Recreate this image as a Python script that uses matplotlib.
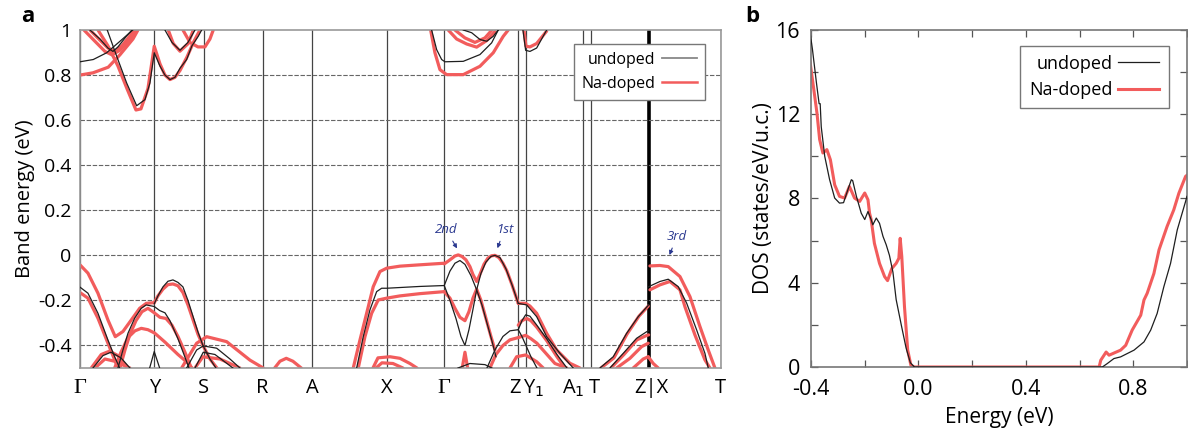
import matplotlib
matplotlib.use("Agg")
import matplotlib.pyplot as plt
from matplotlib.transforms import blended_transform_factory

plt.rcParams["font.family"] = ["Open Sans", "DejaVu Sans"]

# k-path (path length units) and labels
kpath = [0, 74.3, 124, 182.7, 232.3, 306.7, 364.3, 438.3, 445.7, 503.3, 510.7, 568.7, 640.7]
kpath_break = 568.7

# undoped bands: (k, E) pairs
undoped_valence = [
    ([0, 8, 18, 28, 34.7, 39.7], [-0.141, -0.168, -0.257, -0.376, -0.45, -0.5]),
    ([38, 43, 48, 54.7, 61.3, 66.3, 74.3, 79.7, 85, 90, 98, 104, 109],
     [-0.5, -0.42, -0.346, -0.279, -0.235, -0.22, -0.227, -0.245, -0.255, -0.29, -0.37, -0.44, -0.5]),
    ([74.3, 78, 83, 88, 93, 98, 103, 108, 113, 118, 123, 130, 136],
     [-0.215, -0.18, -0.14, -0.115, -0.109, -0.12, -0.14, -0.2, -0.27, -0.34, -0.40, -0.46, -0.5]),
    ([13, 23, 31, 41, 50], [-0.5, -0.445, -0.43, -0.455, -0.5]),
    ([69.7, 74.3, 79.7], [-0.5, -0.427, -0.5]),
    ([106.7, 116.7, 123.3, 136.7, 150, 160], [-0.5, -0.42, -0.402, -0.412, -0.46, -0.5]),
    ([115, 123.3, 135, 153], [-0.5, -0.43, -0.44, -0.5]),
    ([276.7, 283.3, 290, 296.7, 301.7, 306.7, 340, 364.3],
     [-0.5, -0.361, -0.242, -0.161, -0.146, -0.146, -0.138, -0.134]),
    ([364.3, 370, 375, 380, 385, 391, 396.7, 402, 407, 412, 416],
     [-0.134, -0.07, -0.035, -0.023, -0.04, -0.09, -0.153, -0.22, -0.30, -0.38, -0.45]),
    ([364.3, 370, 376, 381, 385, 389, 393, 396.7, 401, 406, 411, 415, 420, 426, 432, 438.3],
     [-0.134, -0.2, -0.28, -0.36, -0.40, -0.33, -0.24, -0.153, -0.08, -0.03, -0.005, 0.0, -0.01, -0.06, -0.13, -0.213]),
    ([438.3, 446.7, 456.7, 466.7, 480, 493.3], [-0.213, -0.22, -0.272, -0.361, -0.435, -0.5]),
    ([407, 415, 423, 430, 438.3, 442, 446, 451, 457],
     [-0.5, -0.42, -0.36, -0.335, -0.33, -0.36, -0.40, -0.45, -0.5]),
    ([438.3, 442, 445.7, 450, 456.7, 466.7, 477, 487],
     [-0.33, -0.29, -0.264, -0.27, -0.309, -0.37, -0.44, -0.5]),
    ([378, 390, 405, 412], [-0.5, -0.48, -0.485, -0.5]),
    ([520, 533.3, 546.7, 558.3, 568.7], [-0.5, -0.45, -0.346, -0.272, -0.22]),
    ([530, 543.3, 556.7, 566.7, 568.7], [-0.5, -0.435, -0.368, -0.339, -0.335]),
    ([568.7, 580, 588.3, 598.3, 606.7, 616.7, 625, 628.3],
     [-0.139, -0.116, -0.106, -0.139, -0.212, -0.331, -0.435, -0.5]),
]
undoped_conduction = [
    ([0, 13.3, 26.7, 40, 53.3], [0.859, 0.869, 0.899, 0.95, 1.002]),
    ([27.3, 36.7, 46.7, 56.7, 65, 70, 74.3, 80, 85, 90, 95, 100, 106.7, 112, 118.3, 121.7],
     [1.0, 0.884, 0.765, 0.664, 0.691, 0.765, 0.899, 0.84, 0.80, 0.78, 0.79, 0.83, 0.869, 0.93, 0.972, 1.0]),
    ([10, 20, 28, 33, 38, 46, 52], [1.0, 0.96, 0.92, 0.905, 0.925, 0.97, 1.0]),
    ([85, 92, 100, 108, 115], [1.0, 0.945, 0.91, 0.945, 1.0]),
    ([351.7, 356.7, 361.7, 365, 383.3, 400, 411.7, 418.3],
     [1.0, 0.913, 0.869, 0.859, 0.861, 0.891, 0.943, 1.0]),
    ([383.3, 391.7, 400, 406.7, 413.3, 418.3], [1.0, 0.988, 0.958, 0.95, 0.972, 1.0]),
    ([443, 445.7, 450, 456.7, 466.7], [1.0, 0.91, 0.905, 0.92, 1.0]),
]

# Na-doped bands
doped_valence = [
    ([0, 8, 18, 28, 35.3, 43, 51.3, 59.7, 66.3, 74.3],
     [-0.042, -0.079, -0.168, -0.287, -0.361, -0.338, -0.287, -0.235, -0.213, -0.210]),
    ([0, 8, 18, 28, 34.7, 38], [-0.165, -0.19, -0.279, -0.39, -0.464, -0.5]),
    ([40, 45, 50, 56, 62, 68, 74.3, 80, 86, 92, 98, 105, 111.3],
     [-0.5, -0.42, -0.35, -0.29, -0.25, -0.235, -0.255, -0.275, -0.28, -0.31, -0.36, -0.43, -0.5]),
    ([74.3, 78, 83, 88, 93, 98, 103, 108, 113, 118, 123, 130, 137],
     [-0.21, -0.18, -0.15, -0.13, -0.127, -0.135, -0.165, -0.22, -0.285, -0.35, -0.40, -0.46, -0.5]),
    ([34.7, 41, 48, 55, 61.3, 68, 74.7, 85, 98, 108, 112],
     [-0.5, -0.43, -0.365, -0.335, -0.324, -0.33, -0.345, -0.385, -0.44, -0.478, -0.5]),
    ([11.3, 21.3, 29.7, 38, 48], [-0.5, -0.44, -0.425, -0.445, -0.5]),
    ([15, 25, 34.7, 44.7, 50], [-0.5, -0.46, -0.47, -0.49, -0.5]),
    ([101.7, 116.7, 126.7, 146.7, 170, 183.3], [-0.5, -0.39, -0.361, -0.383, -0.465, -0.5]),
    ([115, 123, 140, 160], [-0.5, -0.45, -0.46, -0.5]),
    ([194.7, 200, 206.3, 213, 221.3], [-0.5, -0.47, -0.457, -0.47, -0.5]),
    ([273.3, 280, 286.7, 293.3, 300, 306.7, 320, 340, 364.3],
     [-0.5, -0.376, -0.257, -0.139, -0.072, -0.057, -0.048, -0.042, -0.035]),
    ([278.3, 285, 291.7, 298.3, 306.7, 320, 340, 364.3],
     [-0.5, -0.361, -0.257, -0.198, -0.19, -0.18, -0.17, -0.161]),
    ([293, 298, 310, 320, 330, 337], [-0.5, -0.455, -0.45, -0.457, -0.48, -0.5]),
    ([296, 302, 313, 323], [-0.5, -0.477, -0.48, -0.5]),
    ([364.3, 370, 375, 378.3, 382, 386, 390, 393, 396.7, 400, 404, 408, 411.7, 415, 419, 423, 427, 432, 438.3],
     [-0.038, -0.02, -0.003, 0.002, -0.005, -0.02, -0.05, -0.085, -0.116, -0.085, -0.04, -0.012, -0.002, 0.0, -0.01, -0.035, -0.07, -0.13, -0.213]),
    ([364.3, 370, 375, 380, 385, 389, 393, 396.7, 401, 406, 411, 415],
     [-0.161, -0.19, -0.235, -0.275, -0.29, -0.25, -0.19, -0.15, -0.2, -0.28, -0.36, -0.42]),
    ([382.3, 385, 387.7], [-0.5, -0.43, -0.5]),
    ([438.3, 445.7, 450, 456.7, 466.7, 476.7, 490, 500],
     [-0.213, -0.213, -0.225, -0.257, -0.346, -0.42, -0.479, -0.5]),
    ([410, 416, 423, 430, 438.3, 445.7, 451, 457, 467, 475, 487],
     [-0.5, -0.44, -0.4, -0.375, -0.365, -0.355, -0.37, -0.39, -0.44, -0.48, -0.5]),
    ([438.3, 442, 446.7, 451, 457, 467, 477, 485],
     [-0.31, -0.29, -0.28, -0.29, -0.32, -0.38, -0.45, -0.5]),
    ([430, 436.7, 445.7, 456.7, 463.3], [-0.5, -0.45, -0.442, -0.472, -0.5]),
    ([521, 534, 547, 559, 568.3], [-0.5, -0.455, -0.35, -0.27, -0.225]),
    ([531, 544, 557, 567, 568.7], [-0.5, -0.44, -0.375, -0.355, -0.353]),
    ([536.7, 550, 561.7, 568.3], [-0.5, -0.457, -0.405, -0.39]),
    ([553.3, 563.3, 568.3], [-0.5, -0.46, -0.45]),
    ([570, 580, 588.3, 600, 610, 620, 628.3, 635],
     [-0.047, -0.045, -0.05, -0.094, -0.183, -0.316, -0.42, -0.5]),
    ([570, 580, 590, 600, 605, 615, 625, 630],
     [-0.153, -0.131, -0.116, -0.153, -0.228, -0.353, -0.464, -0.5]),
    ([568.3, 573.3, 578.3], [-0.45, -0.48, -0.5]),
]
doped_conduction = [
    ([0, 13, 28.3, 40, 53, 58], [0.80, 0.81, 0.835, 0.89, 0.96, 1.0]),
    ([18, 28, 38, 47, 56, 61, 68, 74.3, 80, 85, 90, 95, 100, 107, 114, 120],
     [1.0, 0.93, 0.84, 0.74, 0.645, 0.65, 0.74, 0.928, 0.85, 0.80, 0.78, 0.79, 0.82, 0.88, 0.95, 1.0]),
    ([4, 15, 25, 32, 40, 50, 57], [1.0, 0.95, 0.905, 0.89, 0.91, 0.96, 1.0]),
    ([10, 20, 28, 35, 42, 51, 54], [1.0, 0.955, 0.92, 0.905, 0.93, 0.98, 1.0]),
    ([88.3, 93.3, 100, 108.3, 113.3], [1.0, 0.94, 0.906, 0.94, 1.0]),
    ([103, 110, 118, 125, 130, 133.3], [1.0, 0.945, 0.925, 0.925, 0.96, 1.0]),
    ([350.7, 355, 360, 366.7, 383.3, 400, 413.3, 423.3, 428.3],
     [1.0, 0.899, 0.824, 0.802, 0.802, 0.839, 0.899, 0.972, 1.0]),
    ([368.3, 376.7, 386.7, 396.7, 406.7, 415], [1.0, 0.96, 0.938, 0.924, 0.953, 0.993]),
    ([375, 385, 395, 405, 412], [1.0, 0.965, 0.945, 0.965, 1.0]),
    ([444, 446, 450, 456.7, 466.7], [1.0, 0.928, 0.925, 0.94, 0.995]),
]

# density of states
dos_energy_undoped = [-0.405, -0.395, -0.38, -0.37, -0.366, -0.362, -0.349, -0.331, -0.312, -0.294,
                      -0.279, -0.263, -0.25, -0.245, -0.231, -0.213, -0.2, -0.188, -0.176, -0.17,
                      -0.157, -0.145, -0.132, -0.12, -0.108, -0.095, -0.083, -0.064, -0.046, -0.03,
                      -0.015, 0.685, 0.703, 0.728, 0.753, 0.803, 0.84, 0.865, 0.889, 0.914, 0.939,
                      0.964, 0.995, 1.0]
dos_undoped = [16.0, 15.1, 13.5, 12.5, 12.5, 11.4, 10.0, 8.9, 8.02, 7.78,
               7.8, 8.41, 8.89, 8.85, 8.1, 7.3, 7.0, 7.38, 6.99, 6.75,
               7.07, 6.82, 6.2, 5.8, 5.3, 4.5, 3.2, 2.0, 0.9, 0.2,
               0.0, 0.0, 0.16, 0.4, 0.48, 0.8, 1.19, 1.75, 2.54, 3.81, 4.92,
               6.51, 7.86, 8.1]
dos_energy_doped = [-0.405, -0.39, -0.378, -0.368, -0.356, -0.341, -0.328, -0.312, -0.294, -0.275,
                    -0.257, -0.238, -0.219, -0.2, -0.188, -0.182, -0.176, -0.164, -0.145, -0.126,
                    -0.115, -0.099, -0.083, -0.073, -0.068, -0.062, -0.052, -0.04, -0.028, -0.015,
                    0.673, 0.679, 0.699, 0.71, 0.753, 0.772, 0.796, 0.828, 0.84, 0.852, 0.877,
                    0.896, 0.926, 0.951, 0.97, 0.995, 1.0]
dos_doped = [14.6, 13.2, 12.06, 10.8, 10.16, 10.32, 9.84, 8.65, 8.1, 8.02,
             8.57, 8.02, 7.86, 8.26, 7.94, 7.3, 6.99, 5.87, 4.92, 4.29,
             4.1, 4.68, 4.92, 5.16, 6.11, 5.24, 2.86, 0.8, 0.08, 0.0,
             0.0, 0.32, 0.71, 0.56, 0.8, 1.03, 1.75, 2.46, 3.18, 3.5, 4.44,
             5.56, 6.67, 7.46, 8.25, 9.05, 9.1]

RED = "#f25c5c"
BLACK = "#1e1e1e"

fig = plt.figure(figsize=(11.88, 4.42), dpi=100)

# ---- panel a: band structure
ax = fig.add_axes([0.0673, 0.1674, 0.5393, 0.7647])
for k in kpath:
    if k == kpath_break:
        ax.axvline(k, color="black", lw=2.6, zorder=1)
    else:
        ax.axvline(k, color="#444444", lw=0.9, zorder=1)
for e in [-0.4, -0.2, 0.0, 0.2, 0.4, 0.6, 0.8]:
    ax.axhline(e, color="#666666", lw=0.8, ls=(0, (4, 1.5)), zorder=1)

for kk, ee in doped_valence + doped_conduction:
    ax.plot(kk, ee, color=RED, lw=2.3, solid_capstyle="round", solid_joinstyle="round", zorder=2)
for kk, ee in undoped_valence + undoped_conduction:
    ax.plot(kk, ee, color=BLACK, lw=0.9, solid_joinstyle="round", zorder=3)

ax.plot([], [], color="#888888", lw=1.3, label="undoped")
ax.plot([], [], color=RED, lw=1.8, label="Na-doped")
leg = ax.legend(loc="upper right", bbox_to_anchor=(0.988, 0.982), markerfirst=False,
                fancybox=False, framealpha=1, edgecolor="#777777", fontsize=11.5,
                handlelength=2.2, handletextpad=0.4, borderpad=0.5, labelspacing=0.5)
leg.get_frame().set_linewidth(1.0)

ax.set_xlim(kpath[0], kpath[-1])
ax.set_ylim(-0.5, 1.0)
ax.set_yticks([-0.4, -0.2, 0, 0.2, 0.4, 0.6, 0.8, 1.0])
ax.set_yticklabels(["-0.4", "-0.2", "0", "0.2", "0.4", "0.6", "0.8", "1"], fontsize=14)
ax.set_xticks([])
ax.tick_params(axis="y", length=0, pad=6)
for s in ax.spines.values():
    s.set_color("#999999")
    s.set_linewidth(1.2)
ax.set_ylabel("Band energy (eV)", fontsize=14.5, labelpad=2)

trans = blended_transform_factory(ax.transData, ax.transAxes)
kp_labels = [
    (0, "Γ", "center", "Liberation Serif"), (74.3, "Y", "center", None), (124, "S", "center", None),
    (182.7, "R", "center", None), (232.3, "A", "center", None), (306.7, "X", "center", None),
    (364.3, "Γ", "center", "Liberation Serif"), (440.5, "Z", "right", None), (443.5, "Y$_1$", "left", None),
    (505, "A$_1$", "right", None), (508.5, "T", "left", None), (571, "Z|X", "center", None),
    (640.7, "T", "center", None),
]
for k, lab, ha, fam in kp_labels:
    kw = {"family": [fam, "DejaVu Serif"]} if fam else {}
    ax.text(k, -0.06, lab, transform=trans, ha=ha, va="center",
            fontsize=16 if fam else 14.5, **kw)

ann_style = dict(color="#2b3990", fontsize=9.5, style="italic", ha="center", va="center")
arrow = dict(arrowstyle="-|>", color="#2b3990", lw=0.8, mutation_scale=6)
ax.annotate("2nd", xy=(378.5, 0.02), xytext=(366, 0.115), arrowprops=arrow, **ann_style)
ax.annotate("1st", xy=(416.5, 0.02), xytext=(424.5, 0.115), arrowprops=arrow, **ann_style)
ax.annotate("3rd", xy=(588.5, -0.01), xytext=(597, 0.085), arrowprops=arrow, **ann_style)

fig.text(0.023, 0.962, "a", fontsize=16, fontweight="bold", ha="center", va="center")

# ---- panel b: density of states
bx = fig.add_axes([0.6827, 0.1697, 0.3164, 0.7625])
bx.plot(dos_energy_undoped, dos_undoped, color=BLACK, lw=0.9, zorder=3, label="undoped")
bx.plot(dos_energy_doped, dos_doped, color=RED, lw=2.2, zorder=2, label="Na-doped")
bx.set_xlim(-0.4, 1.0)
bx.set_ylim(0, 16)
bx.set_xticks([-0.4, -0.2, 0.0, 0.2, 0.4, 0.6, 0.8, 1.0])
bx.set_xticklabels(["-0.4", "", "0.0", "", "0.4", "", "0.8", ""], fontsize=15.5)
bx.set_yticks(range(0, 17, 2))
bx.set_yticklabels(["0", "", "4", "", "8", "", "12", "", "16"], fontsize=15.5)
bx.tick_params(direction="in", top=True, right=True, length=5, width=0.9, color="#555555")
bx.tick_params(axis="x", pad=9)
bx.tick_params(axis="y", pad=8)
for s in bx.spines.values():
    s.set_color("#777777")
    s.set_linewidth(1.2)
bx.set_xlabel("Energy (eV)", fontsize=15, labelpad=5)
bx.set_ylabel("DOS (states/eV/u.c.)", fontsize=15, labelpad=1)
leg2 = bx.legend(loc="upper right", bbox_to_anchor=(0.975, 0.98), markerfirst=False,
                 fancybox=False, framealpha=1, edgecolor="#777777", fontsize=13,
                 handlelength=2.3, handletextpad=0.3, borderpad=0.5, labelspacing=0.45)
leg2.get_frame().set_linewidth(1.0)

fig.text(0.633, 0.962, "b", fontsize=16, fontweight="bold", ha="center", va="center")

fig.savefig("out.png", dpi=100, facecolor="white")
